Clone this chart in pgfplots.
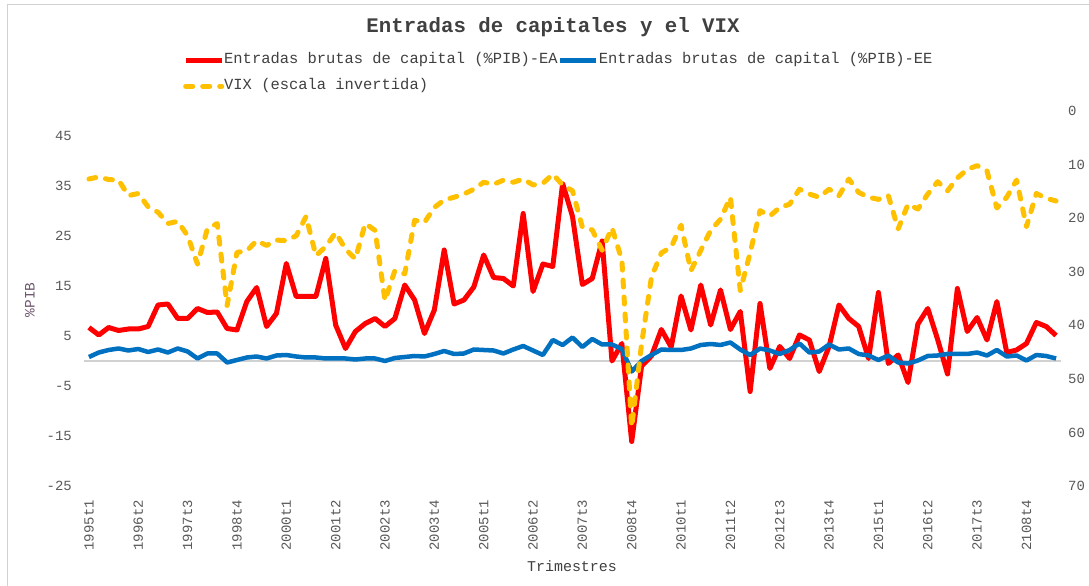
\documentclass[border=0pt]{standalone}
\usepackage{pgfplots}
\pgfplotsset{compat=1.18}
\usepackage{pgfplotstable}
\usepackage{fontspec}
\setmainfont{Liberation Mono}
\definecolor{ea}{RGB}{255,0,0}
\definecolor{ee}{RGB}{0,112,192}
\definecolor{vix}{RGB}{255,192,0}
\definecolor{txt}{RGB}{89,89,89}
\definecolor{ttl}{RGB}{64,64,64}
\definecolor{ylab}{RGB}{112,88,112}

\pgfplotstableread{
i ea ee vix
0 6.7 0.8 12.7
1 5.2 1.7 12.3
2 6.7 2.2 12.8
3 6.1 2.5 12.9
4 6.4 2.1 15.8
5 6.4 2.4 15.4
6 6.9 1.8 17.9
7 11.2 2.3 18.9
8 11.4 1.7 21.0
9 8.5 2.5 20.6
10 8.5 1.9 23.3
11 10.5 0.5 28.6
12 9.7 1.5 22.0
13 9.8 1.5 21.0
14 6.5 -0.3 36.3
15 6.2 0.2 26.4
16 11.9 0.7 26.1
17 14.7 0.9 24.2
18 6.9 0.5 25.1
19 9.5 1.1 24.1
20 19.5 1.2 24.2
21 12.9 0.9 23.3
22 12.9 0.7 19.7
23 12.9 0.7 27.0
24 20.5 0.5 25.3
25 7.2 0.5 22.7
26 2.5 0.5 25.8
27 5.9 0.3 27.6
28 7.5 0.5 21.0
29 8.5 0.5 22.3
30 6.9 0.0 35.4
31 8.5 0.6 29.8
32 15.2 0.8 30.4
33 12.2 1.0 20.4
34 5.5 0.9 20.8
35 10.2 1.4 18.0
36 22.2 2.0 16.6
37 11.4 1.4 16.1
38 12.2 1.5 15.5
39 14.8 2.3 14.6
40 21.2 2.2 13.3
41 16.7 2.1 13.7
42 16.5 1.5 12.9
43 15.0 2.3 13.3
44 29.5 3.0 12.7
45 13.9 2.1 13.8
46 19.4 1.2 13.5
47 18.9 4.2 11.8
48 35.5 3.2 13.8
49 28.9 4.7 14.9
50 15.3 2.8 21.7
51 16.5 4.4 22.2
52 24.0 3.3 26.0
53 0.0 3.3 21.8
54 3.5 2.4 27.8
55 -16.1 -2.1 59.0
56 -1.0 0.0 43.5
57 1.0 1.2 31.0
58 6.3 2.3 26.5
59 2.8 2.2 25.4
60 13.0 2.2 21.3
61 6.2 2.5 29.8
62 15.2 3.2 26.0
63 7.2 3.4 22.3
64 14.2 3.2 20.2
65 6.3 3.7 16.1
66 9.9 2.3 33.5
67 -6.1 1.2 26.5
68 11.5 2.5 18.6
69 -1.5 2.1 19.6
70 2.9 1.4 18.0
71 0.5 2.2 17.4
72 5.2 3.5 14.6
73 4.2 1.7 15.5
74 -2.1 1.9 16.1
75 2.9 3.3 14.6
76 11.2 2.3 15.8
77 8.5 2.5 12.7
78 6.9 1.4 15.2
79 0.5 1.1 16.1
80 13.7 0.2 16.5
81 -0.5 1.1 15.8
82 1.2 -0.3 22.0
83 -4.3 -0.5 17.4
84 7.4 0.1 18.3
85 10.5 1.0 15.5
86 4.3 1.1 13.2
87 -2.6 1.4 14.9
88 14.5 1.4 12.5
89 5.9 1.4 10.9
90 8.7 1.7 10.2
91 4.2 1.1 11.2
92 11.9 2.2 18.1
93 1.7 0.9 16.1
94 2.2 1.1 12.9
95 3.5 0.1 21.6
96 7.7 1.2 15.4
97 6.9 1.0 16.3
98 5.1 0.5 16.8
}\data

\begin{document}
\begin{tikzpicture}[x=1bp,y=1bp]
\useasboundingbox (0,0) rectangle (1089,586);
\fill[white] (0,0) rectangle (1089,586);
\draw[black!18, line width=1bp] (7,-5) -- (7,581) -- (1095,581);
\node[font=\fontsize{20.8}{24}\selectfont\bfseries, text=ttl] at (553,559) {Entradas de capitales y el VIX};

\pgfplotsset{
  common/.style={
    at={(84bp,100bp)}, anchor=south west,
    scale only axis, width=977bp, height=375bp,
    xmin=-0.5, xmax=98.5,
    axis line style={draw=none},
    major tick length=0pt,
    tick style={draw=none},
    ticklabel style={font=\fontsize{14}{16}\selectfont, text=txt, inner sep=0pt},
    /pgf/number format/assume math mode=true,
  }
}

\begin{axis}[
  common,
  ymin=-25, ymax=50,
  ytick={-25,-15,...,45},
  yticklabel shift=12bp,
  xtick={0,5,...,95},
  xticklabels={1995t1,1996t2,1997t3,1998t4,2000t1,2001t2,2002t3,2003t4,2005t1,2006t2,2007t3,2008t4,2010t1,2011t2,2012t3,2013t4,2015t1,2016t2,2017t3,2108t4},
  xticklabel style={rotate=90, anchor=east},
  xticklabel shift=14bp,
  extra y ticks={0},
  extra y tick labels={},
  extra y tick style={grid=major},
  major grid style={draw=black!18, line width=1.2bp},
  ylabel={\%PIB},
  ylabel style={at={(rel axis cs:-0.0553,0.496)}, anchor=center, font=\fontsize{14.5}{16}\selectfont, text=ylab},
  xlabel={Trimestres},
  xlabel style={at={(rel axis cs:0.4995,-0.2133)}, anchor=center, font=\fontsize{15}{17}\selectfont, text=ttl},
]
\addplot[ea, line width=5bp, line join=round] table[x=i,y=ea]{\data};
\addplot[ee, line width=4.5bp, line join=round] table[x=i,y=ee]{\data};
\end{axis}

\begin{axis}[
  common,
  ymin=0, ymax=70, y dir=reverse,
  axis x line=none,
  axis y line*=right,
  ytick={0,10,...,70},
  yticklabel style={anchor=west},
  yticklabel shift=7bp,
  legend columns=2,
  legend cell align=left,
  legend style={at={(rel axis cs:0.10133,1.156)}, anchor=north west, draw=none, fill=none, inner sep=0pt,
    font=\fontsize{15.5}{18}\selectfont, text=ttl,
    nodes={inner sep=0pt, text height=11bp, text depth=4bp},
    row sep=11bp, column sep=0pt},
  legend image code/.code={\draw[#1] (0bp,0bp) -- (36bp,0bp);},
]
\addlegendimage{ea, line width=5bp}
\addlegendentry{Entradas brutas de capital (\%PIB)-EA}
\addlegendimage{ee, line width=5bp}
\addlegendentry{Entradas brutas de capital (\%PIB)-EE}
\addplot[vix, line width=5bp, dash pattern=on 7bp off 10bp, line cap=round, line join=round] table[x=i,y=vix]{\data};
\addlegendentry{VIX (escala invertida)}
\end{axis}
\end{tikzpicture}
\end{document}
